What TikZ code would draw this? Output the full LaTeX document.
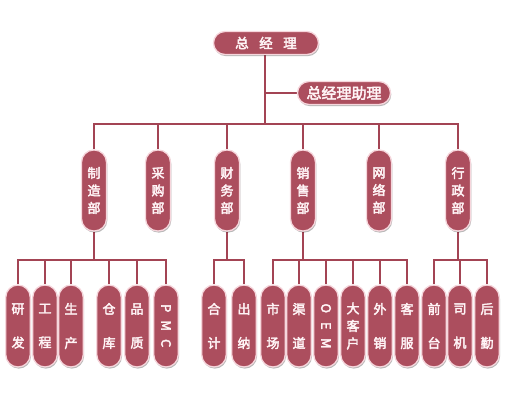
\documentclass[tikz,border=0pt]{standalone}
\usepackage{fontspec}
\newfontfamily\cjk[FakeBold=3]{Noto Sans CJK SC}
\usetikzlibrary{shadows,backgrounds}
\definecolor{rose}{RGB}{172,78,94}
\definecolor{roseline}{RGB}{163,68,84}
\definecolor{rim}{RGB}{246,214,220}
\definecolor{txt}{RGB}{255,244,246}
\tikzset{
  box/.style={fill=rose, draw=rim, line width=1.3pt, text=txt, inner sep=0pt,
    drop shadow={shadow xshift=0.8pt, shadow yshift=-1.6pt, fill=black, opacity=0.28}},
  pill/.style={box, minimum width=24.5pt, rounded corners=12.25pt, align=center},
  dept/.style={pill, minimum width=25pt, minimum height=81pt, font=\cjk\fontsize{13}{17.5}\selectfont},
  leaf/.style={pill, minimum height=82pt, font=\cjk\fontsize{13}{34}\selectfont},
  leafthree/.style={leaf, font=\cjk\fontsize{13}{17.5}\selectfont},
  wire/.style={draw=roseline, line width=2.4pt}
}
\newcommand{\rl}[1]{\rotatebox[origin=c]{-90}{#1}}
\begin{document}
\begin{tikzpicture}[x=1pt,y=-1pt]
\useasboundingbox (0,0) rectangle (505,408);
% top
\node[box, minimum width=105pt, minimum height=23pt, rounded corners=11.5pt, font=\cjk\fontsize{13.5}{13.5}\selectfont] (gm) at (266,43) {总\hspace{10.5pt}经\hspace{10.5pt}理};
\node[box, minimum width=93pt, minimum height=23pt, rounded corners=11.5pt, font=\cjk\fontsize{15}{15}\selectfont] (asst) at (344,93) {总经理助理};
% departments
\node[dept] (d1) at (94,190.5) {制\\造\\部};
\node[dept] (d2) at (158,190.5) {采\\购\\部};
\node[dept] (d3) at (227,190.5) {财\\务\\部};
\node[dept] (d4) at (303,190.5) {销\\售\\部};
\node[dept] (d5) at (379,190.5) {网\\络\\部};
\node[dept] (d6) at (458,190.5) {行\\政\\部};
% leaves
\node[leaf] (l1) at (18,326) {研\\发};
\node[leaf] (l2) at (45,326) {工\\程};
\node[leaf] (l3) at (71,326) {生\\产};
\node[leaf] (l4) at (109,326) {仓\\库};
\node[leaf] (l5) at (137,326) {品\\质};
\node[leafthree] (l6) at (166,326) {\rl{P}\\\rl{M}\\\rl{C}};
\node[leaf] (l7) at (214,326) {合\\计};
\node[leaf] (l8) at (244,326) {出\\纳};
\node[leaf] (l9) at (273,326) {市\\场};
\node[leaf] (l10) at (299,326) {渠\\道};
\node[leafthree] (l11) at (326,326) {\rl{O}\\\rl{E}\\\rl{M}};
\node[leafthree] (l12) at (353,326) {大\\客\\户};
\node[leaf] (l13) at (380,326) {外\\销};
\node[leaf] (l14) at (407,326) {客\\服};
\node[leaf] (l15) at (434,326) {前\\台};
\node[leaf] (l16) at (460,326) {司\\机};
\node[leaf] (l17) at (487,326) {后\\勤};
% wires
\coordinate (bus) at (265,124);
\coordinate (ab) at (265,93);
\coordinate (b1) at (94,260);
\coordinate (b3) at (227,260);
\coordinate (b4) at (303,260);
\coordinate (b6) at (458,260);
\begin{scope}[on background layer]
\draw[wire] (gm.south -| bus) -- (bus);
\draw[wire] (ab) -- (asst.west);
\foreach \d in {d1,d2,d3,d4,d5,d6} \draw[wire] (bus) -| (\d.north);
\draw[wire] (d1.south) -- (b1);
\foreach \l in {l1,l2,l3,l4,l5,l6} \draw[wire] (b1) -| (\l.north);
\draw[wire] (d3.south) -- (b3);
\foreach \l in {l7,l8} \draw[wire] (b3) -| (\l.north);
\draw[wire] (d4.south) -- (b4);
\foreach \l in {l9,l10,l11,l12,l13,l14} \draw[wire] (b4) -| (\l.north);
\draw[wire] (d6.south) -- (b6);
\foreach \l in {l15,l16,l17} \draw[wire] (b6) -| (\l.north);
\end{scope}
\end{tikzpicture}
\end{document}
